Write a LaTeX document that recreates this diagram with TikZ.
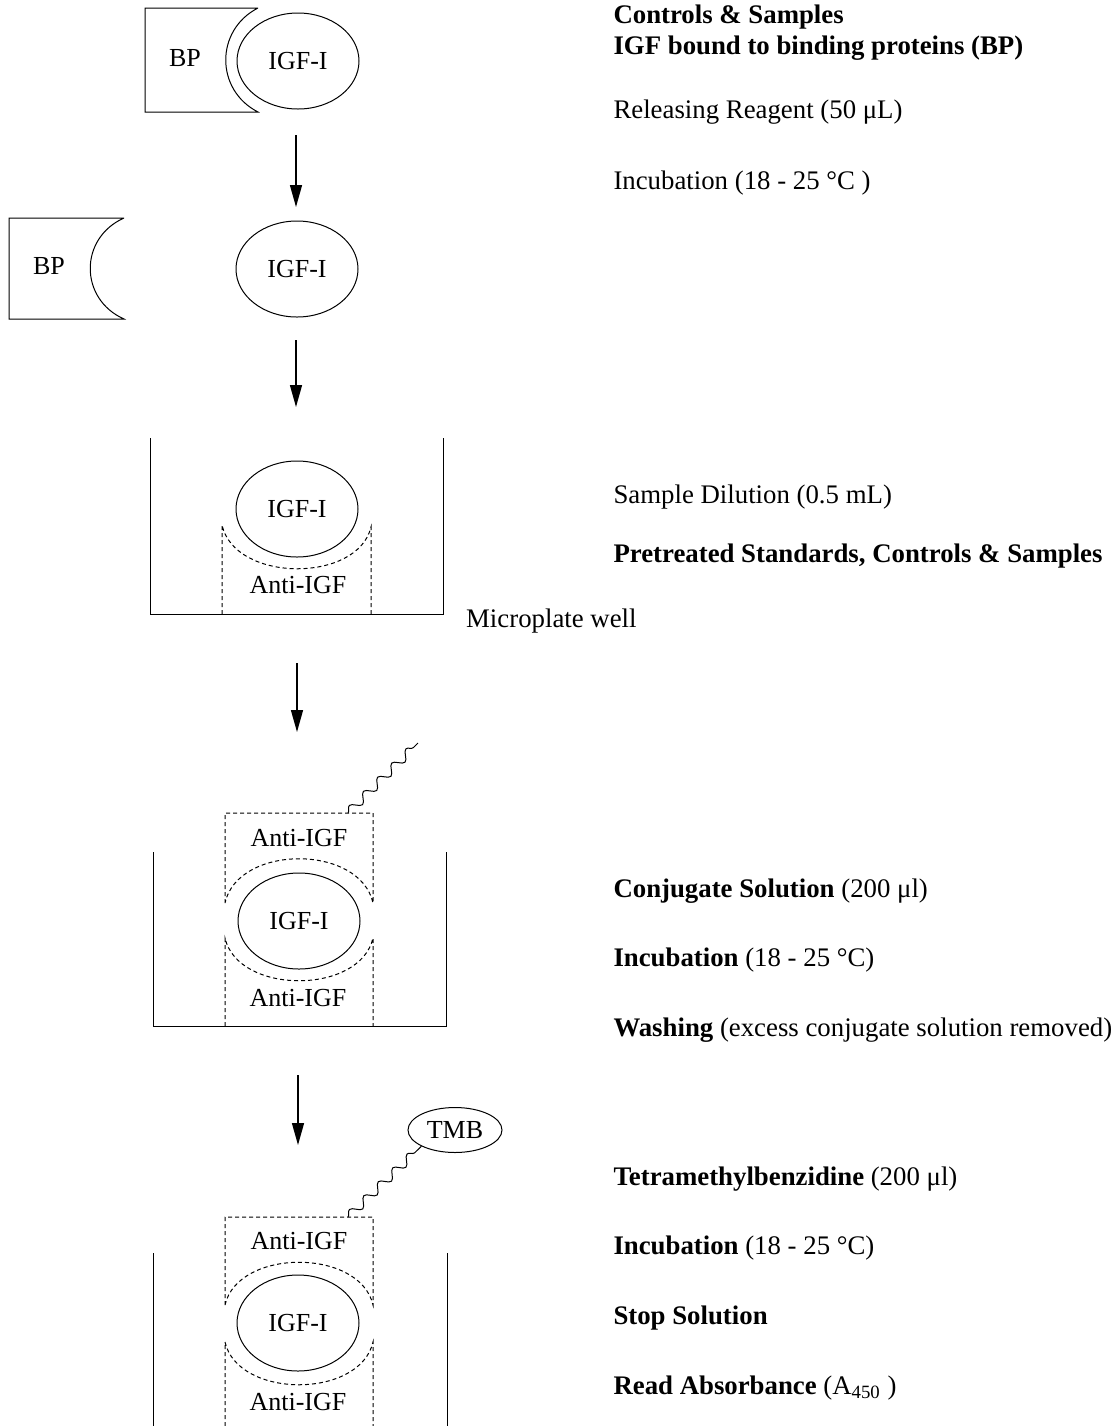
\documentclass[tikz,border=0pt]{standalone}
\usepackage{fontspec}
\setmainfont{Liberation Serif}
\usetikzlibrary{positioning}
\usetikzlibrary{arrows.meta}
\usetikzlibrary{shapes}
\usetikzlibrary{decorations.pathmorphing}

\begin{document}
\begin{tikzpicture}[x=0.5pt,y=-0.5pt,
      font=\fontsize{13}{15}\selectfont,
      line width=0.5pt,
      igf style/.style={ellipse,draw=black,minimum width=61pt,minimum
        height=48pt,inner sep=0pt},
      anti style/.style={draw=black,dash pattern=on 2pt off 1.5pt},
      step text/.style={anchor=west,inner sep=0pt,text height=1.6ex,text
        depth=.4ex,font=\fontsize{13.4}{16}\selectfont},
      flow arrow/.style={line width=0.7pt,-{Triangle[length=11pt,width=6pt]}},
      wave style/.style={decorate,decoration={snake,segment
        length=10pt,amplitude=2.2pt}}
      ]
      \useasboundingbox (0,0) rectangle (1118,1426);

      % bound complex
      \node[igf style] (igf1) at (298,61) {IGF-I};
      \draw (258,8) -- (145,8) -- (145,112) -- (258,112)
        .. controls (215,90) and (215,30) .. (258,8);
      \node (bp1) at (185,58) {BP};

      \coordinate (a1s) at (296,135);
      \coordinate (a1e) at (296,207);
      \draw[flow arrow] (a1s) -- (a1e);

      % released
      \draw (124,218) -- (9,218) -- (9,319) -- (124,319)
        .. controls (79,299) and (79,238) .. (124,218);
      \node (bp2) at (49,266) {BP};
      \node[igf style] (igf2) at (297,269) {IGF-I};

      \coordinate (a2s) at (296,340);
      \coordinate (a2e) at (296,407);
      \draw[flow arrow] (a2s) -- (a2e);

      % microplate well
      \draw (150,438) -- (150,614) -- (443,614) -- (443,438);
      \node[igf style] (igf3) at (297,509) {IGF-I};
      \draw[anti style] (222,614) -- (222,525)
        .. controls (235,583) and (358,583) .. (371,527) -- (371,614);
      \node (anti3) at (298,585) {Anti-IGF};
      \node[anchor=west] (well) at (459,621) {\fontsize{13.4}{16}\selectfont Microplate well};

      \coordinate (a3s) at (297,663);
      \coordinate (a3e) at (297,732);
      \draw[flow arrow] (a3s) -- (a3e);

      % conjugate
      \draw (153,852) -- (153,1026) -- (446,1026) -- (446,852);
      \node[igf style] (igf4) at (299,921) {IGF-I};
      \draw[anti style] (225,903) -- (225,813) -- (373,813) -- (373,903)
        .. controls (360,844) and (238,844) .. (225,903);
      \draw[anti style] (225,1026) -- (225,938)
        .. controls (238,995) and (360,995) .. (373,938) -- (373,1026);
      \node (anti4a) at (299,838) {Anti-IGF};
      \node (anti4b) at (298,998) {Anti-IGF};
      \coordinate (w4s) at (348,813);
      \coordinate (w4e) at (418,743);
      \draw[wave style] (w4s) -- (w4e);

      \coordinate (a4s) at (298,1075);
      \coordinate (a4e) at (298,1145);
      \draw[flow arrow] (a4s) -- (a4e);

      % substrate
      \draw (153,1253) -- (153,1426);
      \draw (447,1253) -- (447,1426);
      \node[igf style] (igf5) at (298,1323) {IGF-I};
      \draw[anti style] (225,1305) -- (225,1217) -- (373,1217) -- (373,1305)
        .. controls (360,1248) and (238,1248) .. (225,1305);
      \draw[anti style] (225,1426) -- (225,1342)
        .. controls (238,1399) and (360,1399) .. (373,1342) -- (373,1426);
      \node (anti5a) at (299,1241) {Anti-IGF};
      \node (anti5b) at (298,1402) {Anti-IGF};
      \node[igf style,minimum width=47pt,minimum height=22.5pt] (tmb) at (455,1130) {TMB};
      \coordinate (w5s) at (348,1217);
      \draw[wave style] (w5s) -- (tmb.south west);

      % steps
      \node[step text] (ctrl) at (613,18) {\bfseries Controls \& Samples};
      \node[step text,below=15.5pt of ctrl.west,anchor=west] (bound)
        {\bfseries IGF bound to binding proteins (BP)};
      \node[step text] (rel) at (613,113) {Releasing Reagent (50 μL)};
      \node[step text,below=35.5pt of rel.west,anchor=west] (inc1)
        {Incubation (18 - 25 °C )};
      \node[step text] (dil) at (613,498) {Sample Dilution (0.5 mL)};
      \node[step text,below=29.5pt of dil.west,anchor=west] (pre)
        {\bfseries Pretreated Standards, Controls \& Samples};
      \node[step text] (conj) at (613,892) {\textbf{Conjugate Solution} (200 μl)};
      \node[step text,below=34.5pt of conj.west,anchor=west] (inc2)
        {\textbf{Incubation} (18 - 25 °C)};
      \node[step text,below=35pt of inc2.west,anchor=west] (wash)
        {\textbf{Washing} (excess conjugate solution removed)};
      \node[step text] (tmbt) at (613,1180) {\textbf{Tetramethylbenzidine} (200 μl)};
      \node[step text,below=34.5pt of tmbt.west,anchor=west] (inc3)
        {\textbf{Incubation} (18 - 25 °C)};
      \node[step text,below=35pt of inc3.west,anchor=west] (stop)
        {\bfseries Stop Solution};
      \node[step text,below=35pt of stop.west,anchor=west] (read)
        {\textbf{Read Absorbance} (A\textsubscript{450} )};
    \end{tikzpicture}
\end{document}
